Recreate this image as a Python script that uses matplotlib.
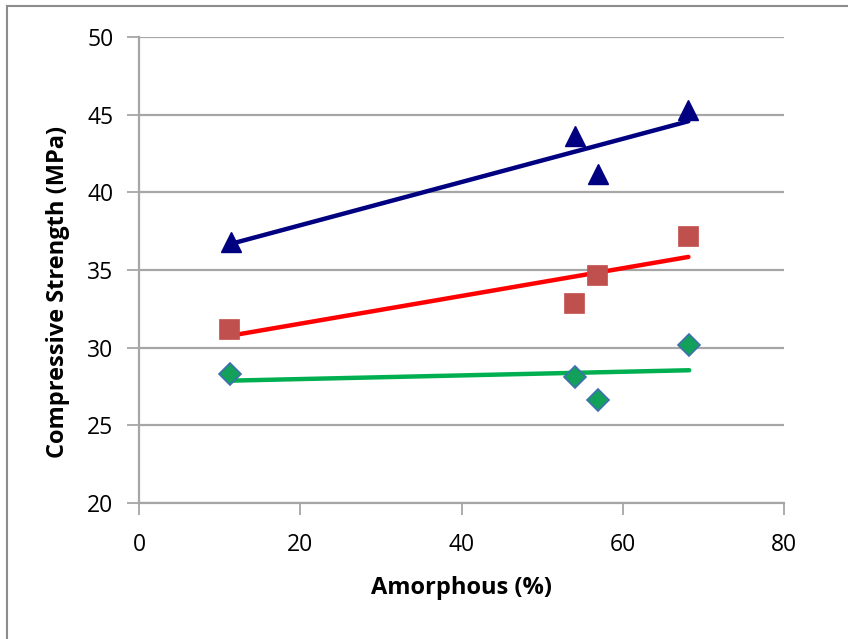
import numpy as np
import matplotlib
matplotlib.use("Agg")
import matplotlib.pyplot as plt
from matplotlib.lines import Line2D

# Data
amorphous_blue = [11.4, 54.0, 56.9, 68.1]
strength_blue = [36.8, 43.6, 41.2, 45.3]
amorphous_red = [11.2, 53.9, 56.8, 68.1]
strength_red = [31.2, 32.9, 34.7, 37.2]
amorphous_green = [11.3, 54.0, 56.9, 68.2]
strength_green = [28.3, 28.1, 26.6, 30.2]

x_ticks = [0, 20, 40, 60, 80]
y_ticks = [20, 25, 30, 35, 40, 45, 50]

plt.rcParams['font.family'] = ['Open Sans', 'DejaVu Sans']

fig = plt.figure(figsize=(8.48, 6.39), dpi=100)
ax = fig.add_axes([0.164, 0.213, 0.761, 0.729])

grid_c = '#A6A6A6'

def trend(xs, ys):
    xs = np.asarray(xs); ys = np.asarray(ys)
    k, b = np.polyfit(xs, ys, 1)
    xx = np.array([xs.min(), xs.max()])
    return xx, k * xx + b

# trend lines
for xs, ys, c in [(amorphous_blue, strength_blue, '#000080'),
                  (amorphous_red, strength_red, '#FF0000'),
                  (amorphous_green, strength_green, '#00B050')]:
    tx, ty = trend(xs, ys)
    ax.plot(tx, ty, color=c, lw=3.2, solid_capstyle='round', zorder=3)

ax.plot(amorphous_blue, strength_blue, ls='none', marker='^', ms=14,
        mfc='#000080', mec='#000080', zorder=4)
ax.plot(amorphous_red, strength_red, ls='none', marker='s', ms=14,
        mfc='#C0504D', mec='#C0504D', mew=0.5, zorder=4)
ax.plot(amorphous_green, strength_green, ls='none', marker='D', ms=11,
        mfc='#12A05A', mec='#3F6FB0', mew=1.2, zorder=4)

ax.set_xlim(0, 80)
ax.set_ylim(20, 50)
ax.set_xticks(x_ticks)
ax.set_yticks(y_ticks)
ax.yaxis.grid(True, color=grid_c, lw=1.6)
ax.set_axisbelow(True)
for s in ['top', 'right']:
    ax.spines[s].set_visible(False)
for s in ['left', 'bottom']:
    ax.spines[s].set_color(grid_c)
    ax.spines[s].set_linewidth(1.6)
ax.tick_params(axis='both', color=grid_c, width=1.3, length=8.5, labelsize=16.5,
               labelcolor='#000000')
ax.tick_params(axis='y', pad=10)
ax.tick_params(axis='x', pad=13)

ax.set_xlabel('Amorphous (%)', fontsize=17, fontweight='bold', va='center')
ax.xaxis.set_label_coords(0.5, -0.182)
ax.set_ylabel('Compressive Strength (MPa)', fontsize=17, fontweight='bold', va='center')
ax.yaxis.set_label_coords(-0.126, 0.453)

# outer chart frame
fig.add_artist(Line2D([7/848, 7/848], [0, 1 - 6/639], transform=fig.transFigure,
                      color='#8C8C8C', lw=1.5))
fig.add_artist(Line2D([7/848, 1], [1 - 6/639, 1 - 6/639], transform=fig.transFigure,
                      color='#8C8C8C', lw=1.5))

fig.savefig('out.png', dpi=100)
